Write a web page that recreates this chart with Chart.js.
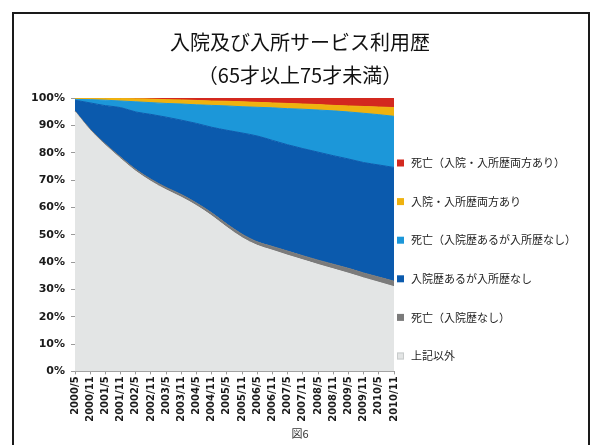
<!DOCTYPE html>
<html lang="ja">
<head>
  <meta charset="UTF-8">
  <title>入院及び入所サービス利用歴</title>
  <script src="https://cdn.jsdelivr.net/npm/chart.js"></script>
  <style>
    html, body { margin: 0; padding: 0; background: #fff; }
    #wrap { width: 599px; height: 445px; }
  </style>
</head>
<body>
  <div id="wrap"><canvas id="usage-chart" width="599" height="445"></canvas></div>
  <script>
    // 半年ごとの時点
    const months = ['2000/5','2000/11','2001/5','2001/11','2002/5','2002/11','2003/5','2003/11',
      '2004/5','2004/11','2005/5','2005/11','2006/5','2006/11','2007/5','2007/11',
      '2008/5','2008/11','2009/5','2009/11','2010/5','2010/11'];

    // 各区分の割合（%）、下から積み上げ
    const otherVals     = [95.0, 88.2, 82.7, 77.8, 73.2, 69.5, 66.4, 63.7, 60.6, 56.9, 52.7, 48.9, 46.1, 44.3, 42.5, 40.8, 39.1, 37.5, 35.9, 34.2, 32.6, 31.0];
    const deathNoHosp   = [0.2, 0.4, 0.5, 0.6, 0.7, 0.8, 0.9, 1.0, 1.0, 1.1, 1.2, 1.3, 1.3, 1.4, 1.5, 1.5, 1.6, 1.7, 1.8, 1.8, 1.9, 2.0];
    const hospOnly      = [4.0, 9.6, 14.0, 18.1, 21.0, 23.7, 25.7, 27.2, 29.1, 31.3, 34.3, 37.0, 38.7, 38.8, 38.9, 39.2, 39.5, 39.7, 40.0, 40.4, 41.0, 41.6];
    const deathHospOnly = [0.3, 1.2, 2.0, 2.4, 3.7, 4.3, 5.0, 5.9, 6.8, 8.0, 8.9, 9.6, 10.5, 11.9, 13.2, 14.4, 15.4, 16.4, 17.2, 18.0, 18.4, 18.7];
    const bothVals      = [0.4, 0.5, 0.6, 0.9, 1.1, 1.3, 1.4, 1.5, 1.6, 1.6, 1.7, 1.8, 1.8, 1.8, 1.9, 1.9, 2.0, 2.0, 2.2, 2.5, 2.8, 3.2];
    const deathBoth     = [0.1, 0.1, 0.2, 0.2, 0.3, 0.4, 0.6, 0.7, 0.9, 1.1, 1.2, 1.4, 1.6, 1.8, 2.0, 2.2, 2.4, 2.7, 2.9, 3.1, 3.3, 3.5];

    const seriesNames = ['上記以外', '死亡（入院歴なし）', '入院歴あるが入所歴なし',
      '死亡（入院歴あるが入所歴なし）', '入院・入所歴両方あり', '死亡（入院・入所歴両方あり）'];
    const seriesData = [otherVals, deathNoHosp, hospOnly, deathHospOnly, bothVals, deathBoth];
    const seriesColors = ['#e3e5e5', '#7b7b7b', '#0b5aad', '#1c97d9', '#efb20f', '#d3291f'];

    const jpFont = "'Noto Sans CJK JP', 'Noto Sans', sans-serif";
    const numFont = "'DejaVu Sans', Arial, sans-serif";

    // 外枠
    const framePlugin = {
      id: 'frame',
      beforeDraw(chart) {
        const c = chart.ctx;
        c.save();
        c.fillStyle = '#fff';
        c.fillRect(0, 0, chart.width, chart.height);
        c.strokeStyle = '#1a1a1a';
        c.lineWidth = 2;
        c.strokeRect(13, 13, 576, 460);
        c.restore();
      }
    };

    // 右側の凡例（積み上げの逆順で上から）
    const sideLegend = {
      id: 'sideLegend',
      afterDraw(chart) {
        const c = chart.ctx;
        const sets = chart.data.datasets;
        const x = chart.chartArea.right + 3;
        let y = 163;
        c.save();
        c.font = '11px ' + jpFont;
        c.textBaseline = 'middle';
        for (let i = sets.length - 1; i >= 0; i--) {
          c.fillStyle = sets[i].backgroundColor;
          c.fillRect(x, y - 3.5, 7, 7);
          if (i === 0) {
            c.strokeStyle = '#c8cbcb';
            c.lineWidth = 1;
            c.strokeRect(x + 0.5, y - 3, 6, 6);
          }
          c.fillStyle = '#222';
          c.fillText(sets[i].label, x + 14, y);
          y += 38.6;
        }
        c.restore();
      }
    };

    new Chart(document.getElementById('usage-chart'), {
      type: 'line',
      data: {
        labels: months,
        datasets: seriesData.map((vals, i) => ({
          label: seriesNames[i],
          data: vals,
          yAxisID: 'y',
          backgroundColor: seriesColors[i],
          borderColor: seriesColors[i],
          borderWidth: 1,
          pointRadius: 0,
          fill: i === 0 ? 'origin' : '-1',
          cubicInterpolationMode: 'monotone'
        }))
      },
      options: {
        responsive: false,
        animation: false,
        layout: { padding: { left: 14, right: 13, top: 14, bottom: 5 } },
        plugins: {
          legend: { display: false },
          tooltip: { enabled: false },
          title: {
            display: true,
            text: ['入院及び入所サービス利用歴', '（65才以上75才未満）'],
            color: '#111',
            font: { family: jpFont, size: 20, weight: 'normal', lineHeight: 1.65 },
            padding: { top: 11.5, bottom: 6.5 }
          },
          subtitle: {
            display: true,
            position: 'bottom',
            text: '図6',
            color: '#333',
            font: { family: jpFont, size: 11 },
            padding: { top: 3, bottom: 0 }
          }
        },
        scales: {
          x: {
            offset: false,
            grid: { display: true, drawOnChartArea: false, tickLength: 3, color: '#9a9a9a' },
            border: { color: '#9a9a9a' },
            ticks: {
              autoSkip: false, maxRotation: 90, minRotation: 90,
              color: '#1a1a1a', padding: 2,
              font: { family: numFont, size: 10, weight: 'bold' }
            }
          },
          y: {
            stacked: true,
            min: 0, max: 100,
            afterFit(scale) { scale.width = 61; },
            grid: { display: true, drawOnChartArea: false, tickLength: 4, color: '#9a9a9a' },
            border: { color: '#9a9a9a' },
            ticks: {
              stepSize: 10,
              color: '#1a1a1a',
              padding: 6,
              font: { family: numFont, size: 11, weight: 'bold' },
              callback: v => v + '%'
            }
          },
          // 凡例を置く右側の余白
          legendSpace: {
            axis: 'y',
            position: 'right',
            afterFit(scale) { scale.width = 192; },
            grid: { display: false },
            border: { display: false },
            ticks: { display: false }
          }
        }
      },
      plugins: [framePlugin, sideLegend]
    });
  </script>
</body>
</html>
